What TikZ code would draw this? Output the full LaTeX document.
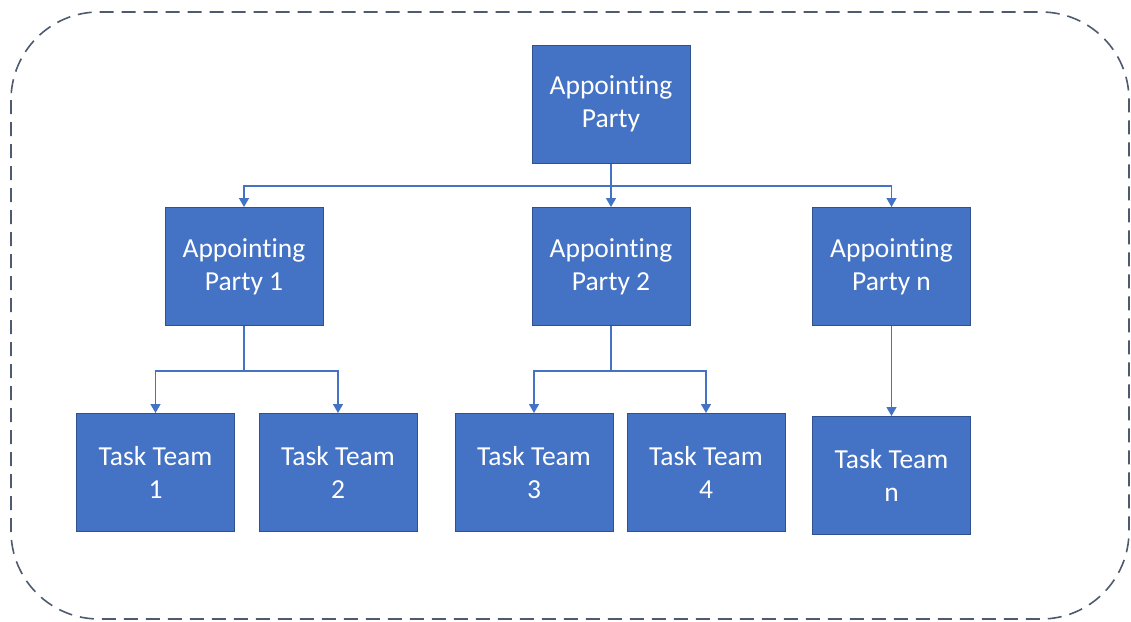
\documentclass[tikz,border=0pt]{standalone}
\usepackage{fontspec}
\setmainfont[Ligatures=NoCommon]{Carlito}
\usetikzlibrary{arrows.meta}
\definecolor{boxfill}{HTML}{4472C4}
\definecolor{boxline}{HTML}{2F528F}
\definecolor{conn}{HTML}{4472C4}
\definecolor{frame}{HTML}{4E5A70}
\tikzset{
  orgbox/.style={draw=boxline, line width=1pt, fill=boxfill, text=white,
    minimum width=158pt, minimum height=118pt, inner sep=0pt, align=center,
    font=\fontsize{27.5}{33}\selectfont},
  conline/.style={draw=conn, line width=1.4pt},
  conarrow/.style={conline, -{Triangle[width=10pt,length=9pt]}},
}
\begin{document}
\begin{tikzpicture}[x=1pt,y=-1pt]
\useasboundingbox (0,0) rectangle (1131,621);
\draw[frame, line width=1.6pt, dash pattern=on 14pt off 8pt, rounded corners=88pt]
  (11,12) rectangle (1129,619);
\node[orgbox] (ap) at (611,104) {Appointing\\Party};
\node[orgbox] (ap1) at (244,266.5) {Appointing\\Party 1};
\node[orgbox] (ap2) at (611,266.5) {Appointing\\Party 2};
\node[orgbox] (apn) at (891.5,266.5) {Appointing\\Party n};
\node[orgbox] (tt1) at (155.5,472.5) {Task Team\\1};
\node[orgbox] (tt2) at (338,472.5) {Task Team\\2};
\node[orgbox] (tt3) at (534,472.5) {Task Team\\3};
\node[orgbox] (tt4) at (706,472.5) {Task Team\\4};
\node[orgbox] (ttn) at (891.5,475.5) {Task Team\\n};
\coordinate (j0) at (611,186);
\coordinate (j1) at (244,371);
\coordinate (j2) at (611,371);
\draw[conline] (ap.south) -- (j0);
\draw[conarrow] (j0) -| (ap1.north);
\draw[conarrow] (j0) -- (ap2.north);
\draw[conarrow] (j0) -| (apn.north);
\draw[conline] (ap1.south) -- (j1);
\draw[conarrow] (j1) -| (tt1.north);
\draw[conarrow] (j1) -| (tt2.north);
\draw[conline] (ap2.south) -- (j2);
\draw[conarrow] (j2) -| (tt3.north);
\draw[conarrow] (j2) -| (tt4.north);
\draw[conarrow] (apn.south) -- (ttn.north);
\end{tikzpicture}
\end{document}
